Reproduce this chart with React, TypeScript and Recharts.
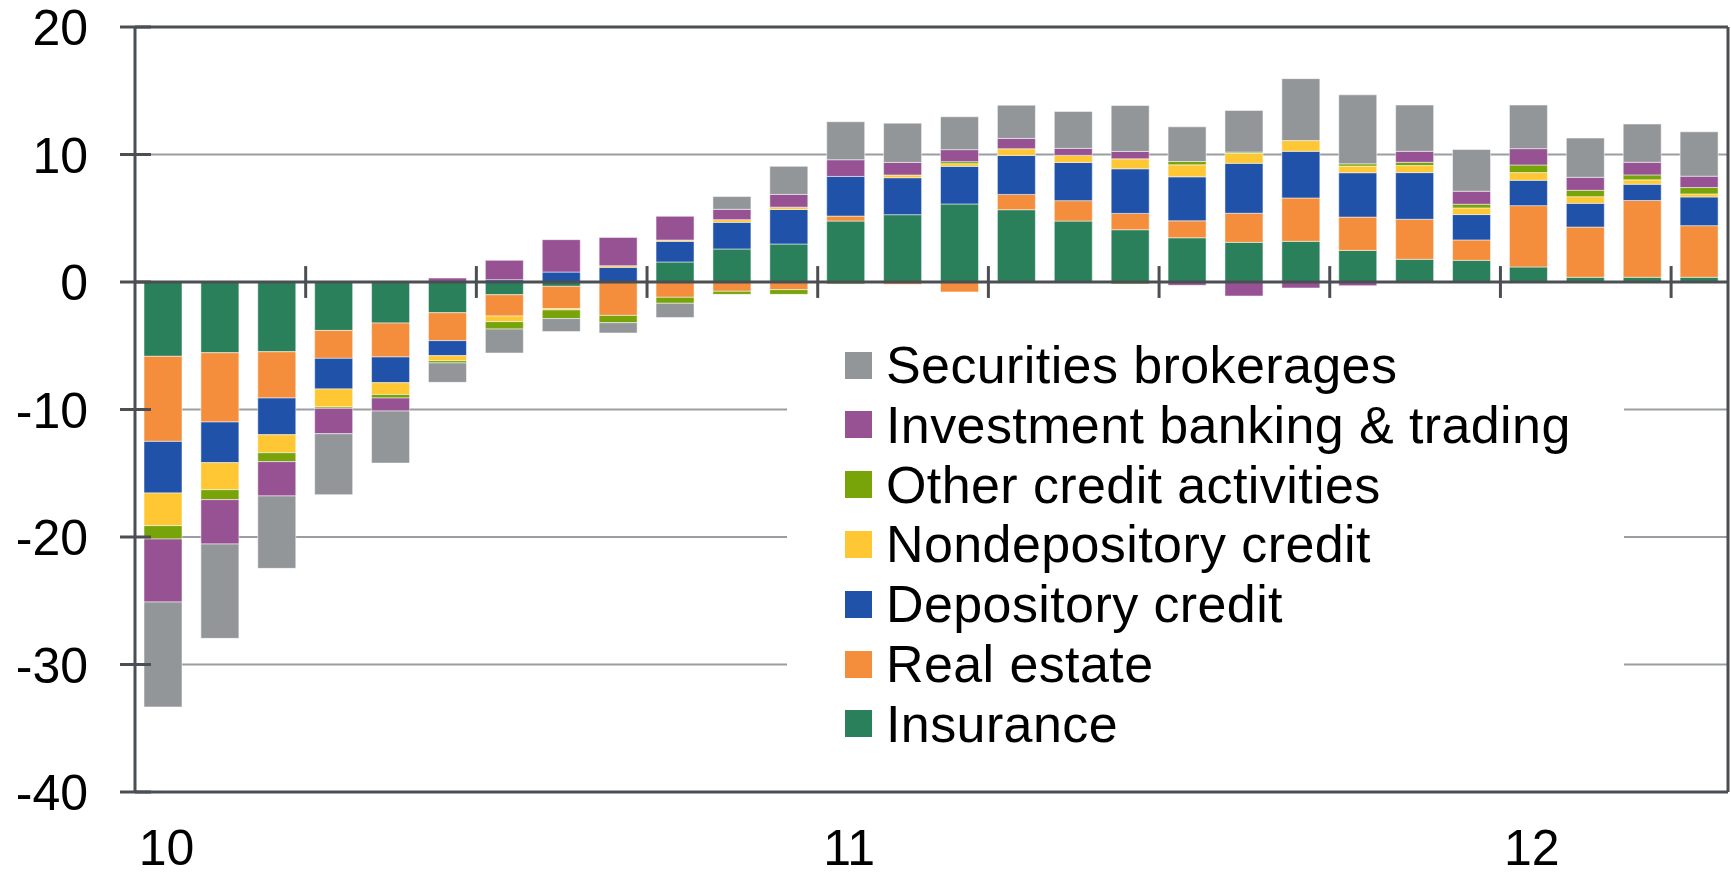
import React from 'react'
import {
  BarChart,
  Bar,
  XAxis,
  YAxis,
  CartesianGrid,
  ReferenceLine,
  Legend,
} from 'recharts'

const months = [
  'Jan-10', 'Feb-10', 'Mar-10', 'Apr-10', 'May-10', 'Jun-10', 'Jul-10', 'Aug-10', 'Sep-10', 'Oct-10', 'Nov-10', 'Dec-10',
  'Jan-11', 'Feb-11', 'Mar-11', 'Apr-11', 'May-11', 'Jun-11', 'Jul-11', 'Aug-11', 'Sep-11', 'Oct-11', 'Nov-11', 'Dec-11',
  'Jan-12', 'Feb-12', 'Mar-12', 'Apr-12',
]
const yearLabels: Record<string, string> = { 'Jan-10': '10', 'Jan-11': '11', 'Jan-12': '12' }
const quarterMarks = ['Apr-10', 'Jul-10', 'Oct-10', 'Jan-11', 'Apr-11', 'Jul-11', 'Oct-11', 'Jan-12', 'Apr-12']
const yTicks = [-40, -30, -20, -10, 0, 10, 20]

const insurance = [-5.83, -5.55, -5.47, -3.8, -3.22, -2.41, -1.0, -0.34, 0, 1.57, 2.59, 2.98, 4.78, 5.28, 6.12, 5.67, 4.78, 4.1, 3.47, 3.11, 3.19, 2.48, 1.78, 1.7, 1.18, 0.37, 0.37, 0.37]
const realEstate = [-6.67, -5.43, -3.63, -2.19, -2.66, -2.19, -1.67, -1.75, -2.62, -1.2, -0.73, -0.6, 0.39, -0.18, -0.78, 1.2, 1.6, 1.28, 1.33, 2.28, 3.4, 2.61, 3.14, 1.6, 4.81, 3.94, 6.02, 4.05]
const depository = [-4.05, -3.19, -2.88, -2.4, -2.02, -1.18, 0.18, 0.78, 1.15, 1.62, 2.09, 2.71, 3.11, 2.9, 2.95, 3.06, 3.0, 3.5, 3.45, 3.92, 3.66, 3.48, 3.66, 1.99, 1.99, 1.86, 1.28, 2.25]
const nondepository = [-2.56, -2.12, -1.41, -1.41, -0.92, -0.39, -0.44, -0.1, 0.13, 0.1, 0.21, 0.18, 0, 0.21, 0.21, 0.52, 0.55, 0.78, 0.94, 0.78, 0.84, 0.52, 0.55, 0.52, 0.6, 0.52, 0.34, 0.24]
const otherCredit = [-1.05, -0.78, -0.7, -0.11, -0.28, -0.18, -0.58, -0.68, -0.57, -0.47, -0.24, -0.37, -0.15, 0, 0.16, 0, 0, -0.15, 0.26, 0.1, 0, 0.18, 0.26, 0.29, 0.6, 0.5, 0.39, 0.5]
const investment = [-4.94, -3.48, -2.69, -1.99, -1.02, 0.31, 1.52, 2.54, 2.22, 1.86, 0.81, 1.0, 1.31, 0.99, 0.94, 0.81, 0.55, 0.58, -0.26, -1.1, -0.47, -0.29, 0.86, 1.02, 1.28, 1.02, 0.99, 0.89]
const securities = [-8.23, -7.4, -5.68, -4.78, -4.08, -1.52, -1.88, -1.02, -0.81, -1.12, 1.0, 2.2, 2.98, 3.08, 2.58, 2.61, 2.9, 3.6, 2.72, 3.27, 4.86, 5.41, 3.63, 3.27, 3.42, 3.08, 3.0, 3.48]

// stack order, from zero outward
const series = [
  { key: 'insurance', name: 'Insurance', color: '#2b805c', values: insurance },
  { key: 'realEstate', name: 'Real estate', color: '#f48e3c', values: realEstate },
  { key: 'depository', name: 'Depository credit', color: '#2152a9', values: depository },
  { key: 'nondepository', name: 'Nondepository credit', color: '#ffc734', values: nondepository },
  { key: 'otherCredit', name: 'Other credit activities', color: '#78a40a', values: otherCredit },
  { key: 'investment', name: 'Investment banking & trading', color: '#975294', values: investment },
  { key: 'securities', name: 'Securities brokerages', color: '#939699', values: securities },
]

const data = months.map((m, i) => {
  const row: Record<string, string | number> = { month: m }
  series.forEach((s) => {
    row[s.key] = s.values[i]
  })
  return row
})

const FONT = '"Liberation Sans", Arial, sans-serif'
const DARK = '#4b4f54'
const GRID = '#9a9ea2'

const YTick = (props: any) => {
  const { x, y, payload } = props
  const axisX = x + 47
  return (
    <g>
      <line x1={axisX - 15} x2={axisX + 16} y1={y} y2={y} stroke={DARK} strokeWidth={3} />
      <text x={x} y={y} dy="0.36em" textAnchor="end" fontSize={50} fontFamily={FONT} fill="#000">
        {payload.value}
      </text>
    </g>
  )
}

const XTick = (props: any) => {
  const { x, y, payload } = props
  const label = yearLabels[payload.value]
  if (!label) return <g />
  return (
    <text x={x + 3} y={y + 73} textAnchor="middle" fontSize={50} fontFamily={FONT} fill="#000">
      {label}
    </text>
  )
}

const LegendBox = () => (
  <div style={{ background: '#fff', width: 837, height: 470, position: 'relative', fontFamily: FONT }}>
    {[...series].reverse().map((s, i) => (
      <div
        key={s.key}
        style={{
          position: 'absolute',
          left: 58,
          top: 65 + i * 59.8 - 30,
          height: 60,
          display: 'flex',
          alignItems: 'center',
          whiteSpace: 'nowrap',
        }}
      >
        <span style={{ display: 'inline-block', width: 27, height: 27, background: s.color, marginRight: 14 }} />
        <span style={{ fontSize: 52, letterSpacing: 0.4, color: '#000', lineHeight: '60px' }}>{s.name}</span>
      </div>
    ))}
  </div>
)

export default function App() {
  return (
    <div style={{ position: 'absolute', left: 0, top: 0, background: '#fff' }}>
      <BarChart
        width={1731}
        height={877}
        data={data}
        stackOffset="sign"
        margin={{ top: 27, right: 3, left: 0, bottom: 0 }}
        barSize={38}
      >
        <CartesianGrid vertical={false} stroke={GRID} strokeWidth={2} />
        <XAxis
          dataKey="month"
          interval={0}
          height={85}
          tickSize={0}
          tickMargin={0}
          tickLine={false}
          axisLine={{ stroke: DARK, strokeWidth: 3 }}
          tick={<XTick />}
        />
        <YAxis
          type="number"
          domain={[-40, 20]}
          ticks={yTicks}
          width={135}
          tickSize={15}
          tickMargin={32}
          tickLine={false}
          axisLine={{ stroke: DARK, strokeWidth: 3 }}
          tick={<YTick />}
        />
        {series.map((s) => (
          <Bar
            key={s.key}
            dataKey={s.key}
            name={s.name}
            stackId="a"
            fill={s.color}
            stroke="#ffffff"
            strokeOpacity={0.5}
            strokeWidth={1}
            isAnimationActive={false}
          />
        ))}
        <ReferenceLine y={0} stroke={DARK} strokeWidth={3} />
        <ReferenceLine y={20} stroke={DARK} strokeWidth={3} />
        <ReferenceLine x="Apr-12" position="end" stroke={DARK} strokeWidth={3} />
        {quarterMarks.map((m) => (
          <ReferenceLine
            key={m}
            segment={[{ x: m, y: 1.25 }, { x: m, y: -1.25 }]}
            position="start"
            stroke={DARK}
            strokeWidth={3}
          />
        ))}
        <Legend
          layout="vertical"
          align="center"
          verticalAlign="middle"
          content={<LegendBox />}
          wrapperStyle={{ left: 787, top: 300, width: 837, height: 470 }}
        />
      </BarChart>
    </div>
  )
}
